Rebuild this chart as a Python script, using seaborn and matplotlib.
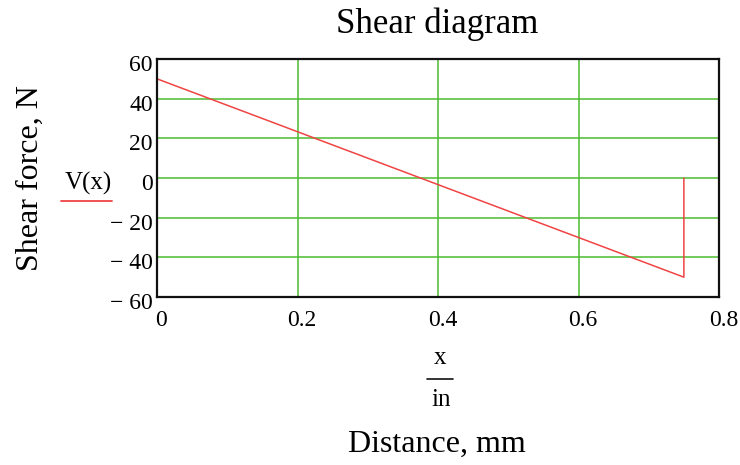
import matplotlib
matplotlib.use("Agg")
import matplotlib.pyplot as plt
from matplotlib.lines import Line2D
from matplotlib.ticker import FuncFormatter
from matplotlib.transforms import ScaledTranslation
import seaborn as sns
import pandas as pd

# Shear force along the beam: linear drop from the left support, then a jump back to zero
distance = [0.0, 0.75, 0.75]
shear = [50.0, -50.0, 0.0]
x_ticks = [0, 0.2, 0.4, 0.6, 0.8]
y_ticks = [-60, -40, -20, 0, 20, 40, 60]

df = pd.DataFrame({"x": distance, "V": shear})

sns.set_theme(style="white")
plt.rcParams["font.family"] = ["Liberation Serif", "DejaVu Serif"]
plt.rcParams["text.color"] = "#000000"

fig = plt.figure(figsize=(7.4, 4.65), dpi=100)
W, H = 740, 465
ax = fig.add_axes([157 / W, 1 - 297 / H, (719 - 157) / W, (297 - 59) / H])

sns.lineplot(data=df, x="x", y="V", ax=ax, sort=False, estimator=None,
             color="#f04444", linewidth=1.1)

ax.set_xlim(0, 0.8)
ax.set_ylim(-60, 60)
ax.set_xticks(x_ticks)
ax.set_yticks(y_ticks)


def fmt(v, _pos):
    if abs(v) < 1e-12:
        return "0"
    s = f"{abs(v):g}"
    return ("\u2212 " + s) if v < 0 else s


ax.xaxis.set_major_formatter(FuncFormatter(fmt))
ax.yaxis.set_major_formatter(FuncFormatter(fmt))
ax.tick_params(axis="both", length=0, labelsize=17, colors="#000000")
ax.tick_params(axis="x", pad=9)
ax.tick_params(axis="y", pad=3)
ax.grid(True, color="#4cbb30", linewidth=1.1)
ax.set_axisbelow(True)
for s in ax.spines.values():
    s.set_color("#111111")
    s.set_linewidth(1.6)
ax.set_xlabel("")
ax.set_ylabel("")

# Nudge tick labels: x labels sit slightly right, y labels slightly below their lines
for t in ax.xaxis.get_major_ticks():
    t.label1.set_transform(t.label1.get_transform()
                           + ScaledTranslation(4.5 / 100, 0, fig.dpi_scale_trans))
for t in ax.yaxis.get_major_ticks():
    t.label1.set_transform(t.label1.get_transform()
                           + ScaledTranslation(0, -4 / 100, fig.dpi_scale_trans))

# Titles and labels
fig.text(437 / W, 1 - 24 / H, "Shear diagram", ha="center", va="center", fontsize=25)
fig.text(30 / W, 1 - 178 / H, "Shear force, N", ha="center", va="center",
         rotation=90, fontsize=23)
fig.text(88 / W, 1 - 183 / H, "V(x)", ha="center", va="center", fontsize=18)
fig.add_artist(Line2D([61 / W, 112 / W], [1 - 201 / H, 1 - 201 / H],
                      color="#f04444", linewidth=1.3))

fig.text(440 / W, 1 - 358 / H, "x", ha="center", va="center", fontsize=18)
fig.add_artist(Line2D([427 / W, 453 / W], [1 - 379 / H, 1 - 379 / H],
                      color="#111111", linewidth=1.2))
fig.text(441 / W, 1 - 400 / H, "in", ha="center", va="center", fontsize=18)
fig.text(437 / W, 1 - 444 / H, "Distance, mm", ha="center", va="center", fontsize=23)

fig.savefig("out.png", dpi=100)
